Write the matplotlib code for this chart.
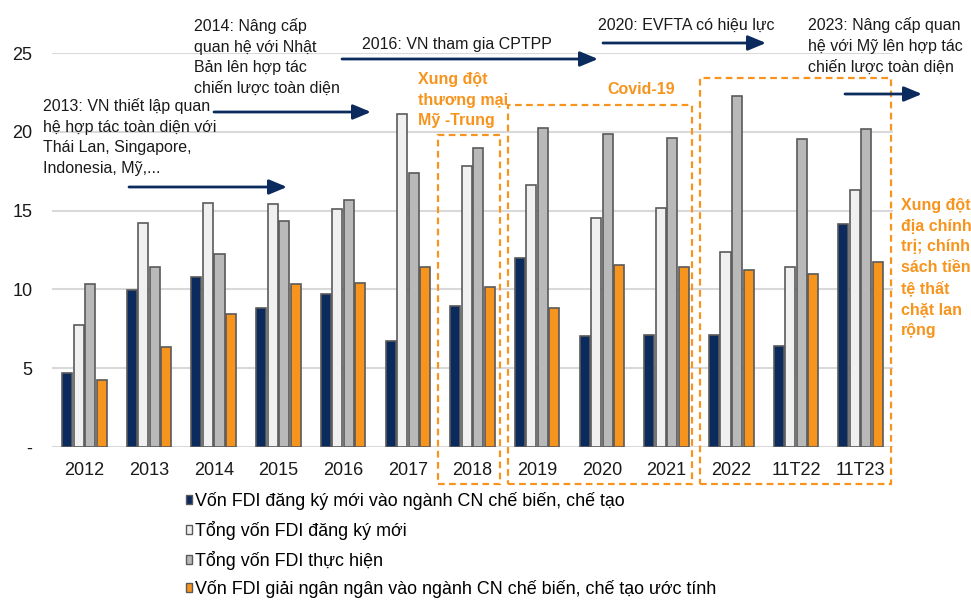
import matplotlib
matplotlib.use("Agg")
import matplotlib.pyplot as plt
from matplotlib.patches import Rectangle, FancyArrowPatch, Patch
import numpy as np

plt.rcParams['font.family'] = ['Liberation Sans', 'DejaVu Sans']

categories = ["2012", "2013", "2014", "2015", "2016", "2017", "2018",
              "2019", "2020", "2021", "2022", "11T22", "11T23"]
fdi_cn_dangky = [4.7, 9.95, 10.8, 8.8, 9.7, 6.75, 8.95, 12.0, 7.07, 7.13, 7.13, 6.4, 14.13]
tong_dangky = [7.75, 14.2, 15.5, 15.45, 15.1, 21.1, 17.85, 16.65, 14.55, 15.17, 12.36, 11.4, 16.3]
tong_thuchien = [10.35, 11.4, 12.25, 14.35, 15.7, 17.4, 19.0, 20.27, 19.85, 19.6, 22.28, 19.55, 20.17]
cn_giaingan = [4.25, 6.35, 8.45, 10.35, 10.4, 11.4, 10.15, 8.8, 11.55, 11.45, 11.2, 10.95, 11.75]

series_labels = ["Vốn FDI đăng ký mới vào ngành CN chế biến, chế tạo",
                 "Tổng vốn FDI đăng ký mới",
                 "Tổng vốn FDI thực hiện",
                 "Vốn FDI giải ngân ngân vào ngành CN chế biến, chế tạo ước tính"]
yticks = [0, 5, 10, 15, 20, 25]
ytick_labels = ["-", "5", "10", "15", "20", "25"]

NAVY = "#0b2a5e"
ORANGE = "#f7941d"
colors = [NAVY, "#f0f0f0", "#b9b9b9", ORANGE]
EDGE = "#5a5a5a"

W, H = 971, 601
fig = plt.figure(figsize=(W / 100, H / 100), dpi=100)


def fx(x):
    return x / W


def fy(y):
    return 1 - y / H


ax = fig.add_axes([fx(52), fy(447), (893 - 52) / W, (447 - 53) / H])
x = np.arange(len(categories))
series = [fdi_cn_dangky, tong_dangky, tong_thuchien, cn_giaingan]
step = 0.178
bw = 0.155
for i, (vals, c) in enumerate(zip(series, colors)):
    ax.bar(x + (i - 1.5) * step, vals, width=bw, color=c, edgecolor=EDGE,
           linewidth=1.2, zorder=3)

ax.set_xlim(-0.5, len(categories) - 0.5)
ax.set_ylim(0, 25)
ax.set_yticks(yticks)
ax.set_yticklabels(ytick_labels, fontsize=13)
ax.set_xticks(x)
ax.set_xticklabels(categories, fontsize=13)
ax.tick_params(axis='both', length=0, colors="#1a1a1a")
ax.tick_params(axis='y', pad=14)
ax.tick_params(axis='x', pad=11)
for s in ax.spines.values():
    s.set_visible(False)
ax.yaxis.grid(True, color="#d9d9d9", linewidth=1.5, zorder=0)
ax.set_axisbelow(True)
ax.axhline(0, color="#d9d9d9", linewidth=2, zorder=2)

# Legend
handles = [Patch(facecolor=c, edgecolor=EDGE, linewidth=1) for c in colors]
fig.legend(handles, series_labels, loc='upper left',
           bbox_to_anchor=(fx(185.5), fy(492.0)), frameon=False, fontsize=12.9,
           handlelength=0.38, handleheight=0.4, handletextpad=0.14,
           labelspacing=0.60, borderaxespad=0, borderpad=0)

# Annotations (black)
TXT = "#1a1a1a"
fs = 11.5
LS = 1.47
fig.text(fx(194), fy(18), "2014: Nâng cấp\nquan hệ với Nhật\nBản lên hợp tác\nchiến lược toàn diện",
         fontsize=fs, color=TXT, va='top', ha='left', linespacing=LS)
fig.text(fx(43), fy(98), "2013: VN thiết lập quan\nhệ hợp tác toàn diện với\nThái Lan, Singapore,\nIndonesia, Mỹ,...",
         fontsize=fs, color=TXT, va='top', ha='left', linespacing=LS)
fig.text(fx(362), fy(45), "2016: VN tham gia CPTPP", fontsize=fs, color=TXT,
         va='center', ha='left')
fig.text(fx(598), fy(25), "2020: EVFTA có hiệu lực", fontsize=fs, color=TXT,
         va='center', ha='left')
fig.text(fx(808), fy(17), "2023: Nâng cấp quan\nhệ với Mỹ lên hợp tác\nchiến lược toàn diện",
         fontsize=fs, color=TXT, va='top', ha='left', linespacing=LS)

# Orange annotations
fig.text(fx(418), fy(72), "Xung đột\nthương mại\nMỹ -Trung", fontsize=fs,
         color=ORANGE, fontweight='bold', va='top', ha='left', linespacing=LS)
fig.text(fx(641), fy(90), "Covid-19", fontsize=fs, color=ORANGE,
         fontweight='bold', va='center', ha='center')
fig.text(fx(901), fy(198), "Xung đột\nđịa chính\ntrị; chính\nsách tiền\ntệ thất\nchặt lan\nrộng",
         fontsize=fs, color=ORANGE, fontweight='bold', va='top', ha='left',
         linespacing=LS)

# Dashed boxes
for (x0, y0, x1, y1) in [(438, 135, 500, 484), (508, 105, 692, 484), (700, 78, 891, 484)]:
    fig.add_artist(Rectangle((fx(x0), fy(y1)), fx(x1) - fx(x0), fy(y0) - fy(y1),
                             transform=fig.transFigure, fill=False,
                             edgecolor=ORANGE, linewidth=1.6,
                             linestyle=(0, (3, 2)), zorder=5))

# Arrows
for (x0, x1, y) in [(129, 287, 187), (214, 371, 112), (342, 598, 59),
                    (603, 766, 43), (845, 922, 94)]:
    fig.add_artist(FancyArrowPatch((fx(x0), fy(y)), (fx(x1), fy(y)),
                                   transform=fig.transFigure,
                                   arrowstyle='-|>,head_length=0.6,head_width=0.25',
                                   mutation_scale=18, linewidth=2, color=NAVY,
                                   shrinkA=0, shrinkB=0, zorder=6))

fig.savefig("out.png", dpi=100)
